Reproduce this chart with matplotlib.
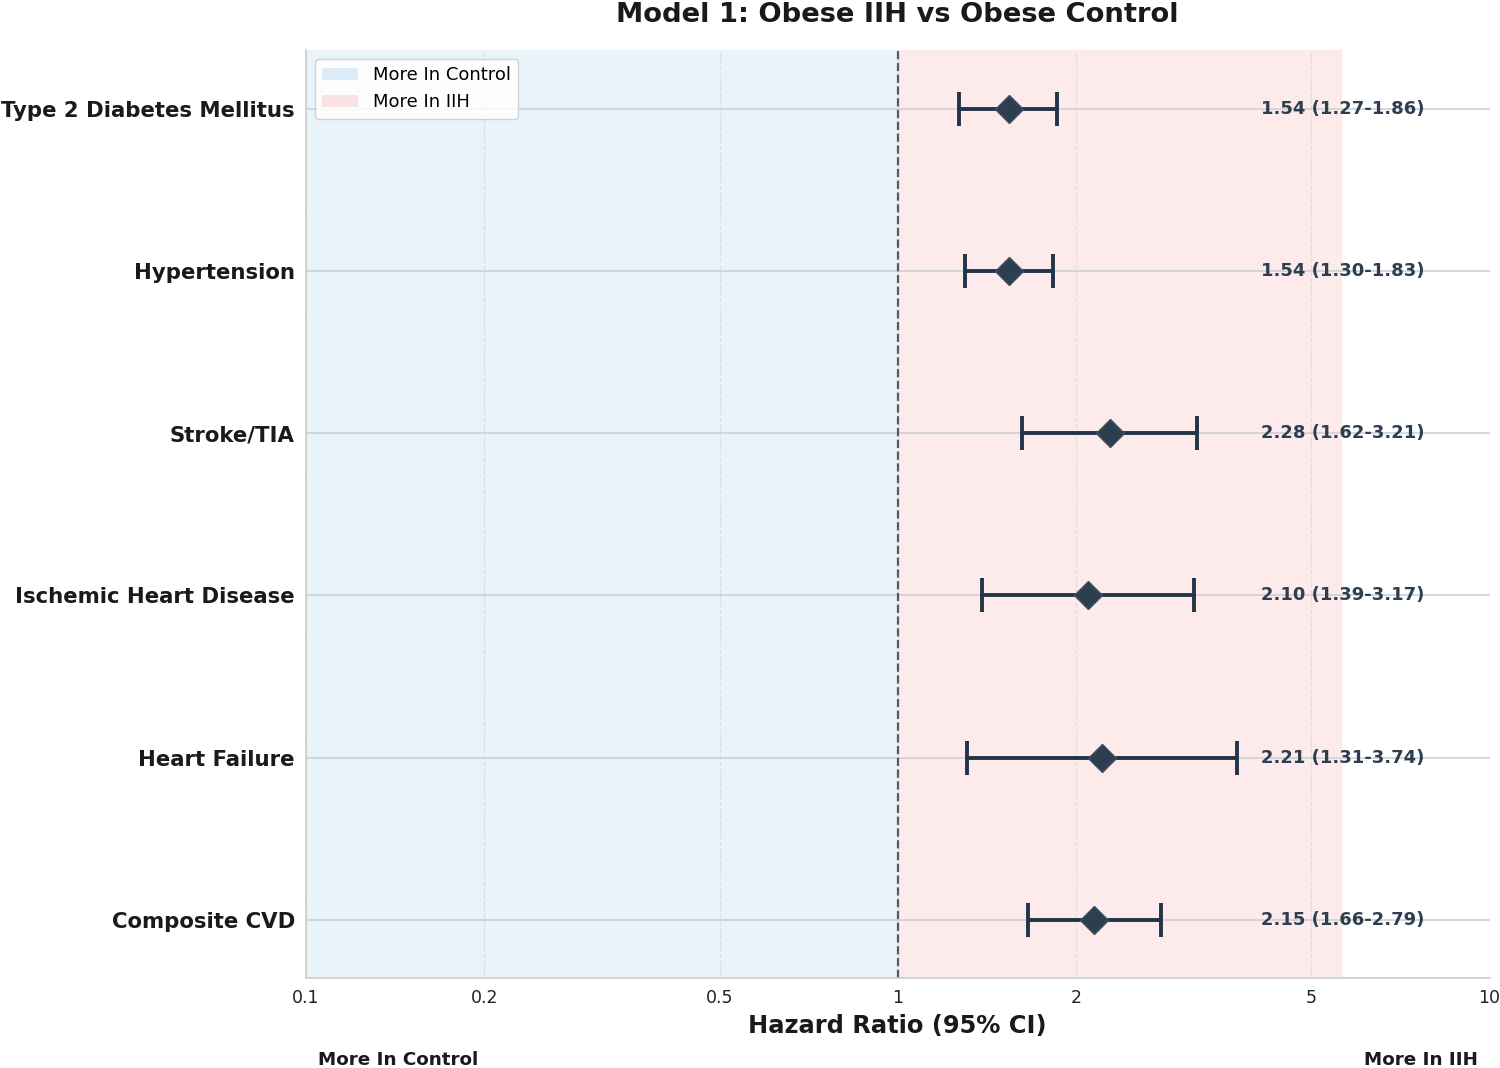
import numpy as np
import matplotlib
matplotlib.use("Agg")
import matplotlib.pyplot as plt
from matplotlib.patches import Patch

# --- DATOS ---
outcomes = ["Type 2 Diabetes Mellitus", "Hypertension", "Stroke/TIA",
            "Ischemic Heart Disease", "Heart Failure", "Composite CVD"]
hr = [1.54, 1.54, 2.28, 2.10, 2.21, 2.15]
ci_low = [1.27, 1.30, 1.62, 1.39, 1.31, 1.66]
ci_high = [1.86, 1.83, 3.21, 3.17, 3.74, 2.79]
x_ticks = [0.1, 0.2, 0.5, 1, 2, 5, 10]
x_tick_labels = ["0.1", "0.2", "0.5", "1", "2", "5", "10"]

DARK = "#2c3e50"

fig = plt.figure(figsize=(15, 10.68), dpi=100)
ax = fig.add_axes([0.204, 0.084, 0.789, 0.869])

n = len(outcomes)
y = np.arange(n)[::-1]  # primero arriba

hr_a = np.array(hr)
err = [hr_a - np.array(ci_low), np.array(ci_high) - hr_a]

ax.set_xscale("log")
ax.set_xlim(0.1, 10)
ax.set_ylim(-0.36, n - 1 + 0.36)

# zonas de fondo
ax.axvspan(0.1, 1, color="#e8f4fa", zorder=0)
ax.axvspan(1, max(ci_high) * 1.5, color="#fdebec", zorder=0)

# grilla
for t in x_ticks:
    ax.axvline(t, color="#dddddd", linestyle="--", linewidth=0.9, zorder=1)
for yy in y:
    ax.axhline(yy, color="#c9cdd2", linewidth=1.1, zorder=1)

ax.axvline(1, color="#555a60", linestyle="--", linewidth=1.6, zorder=2)

ax.errorbar(hr, y, xerr=err, fmt="none", ecolor="#223548", elinewidth=2.8,
            capsize=12.5, capthick=2.8, zorder=3)
ax.plot(hr, y, linestyle="none", marker="D", markersize=14.5,
        color=DARK, markeredgecolor="#3d4f61", markeredgewidth=1, zorder=4)

text_x = max(ci_high) * 1.1
for yy, h, lo, hi in zip(y, hr, ci_low, ci_high):
    ax.text(text_x, yy, f"{h:.2f} ({lo:.2f}-{hi:.2f})", va="center", ha="left",
            fontsize=13, fontweight="bold", color=DARK, zorder=5)

ax.set_yticks(y)
ax.set_yticklabels(outcomes, fontsize=15.3, fontweight="bold", color="#1a1a1a")
ax.set_xticks(x_ticks)
ax.set_xticklabels(x_tick_labels, fontsize=12.5, color="#222222")
ax.xaxis.set_minor_locator(matplotlib.ticker.NullLocator())
ax.tick_params(axis="both", length=0, pad=8)

for side in ["top", "right"]:
    ax.spines[side].set_visible(False)
for side in ["left", "bottom"]:
    ax.spines[side].set_color("#cccccc")
    ax.spines[side].set_linewidth(1.2)

ax.set_xlabel("Hazard Ratio (95% CI)", fontsize=17.4, fontweight="bold",
              color="#1a1a1a", labelpad=5)
ax.set_title("Model 1: Obese IIH vs Obese Control", fontsize=19.7,
             fontweight="bold", color="#1a1a1a", pad=20)

ax.text(0.01, -0.088, "More In Control", transform=ax.transAxes, ha="left",
        va="center", fontsize=13.2, fontweight="bold", color="#1a1a1a")
ax.text(0.99, -0.088, "More In IIH", transform=ax.transAxes, ha="right",
        va="center", fontsize=13.2, fontweight="bold", color="#1a1a1a")

handles = [Patch(facecolor="#dcecf8", label="More In Control"),
           Patch(facecolor="#fbe3e5", label="More In IIH")]
ax.legend(handles=handles, loc="upper left", fontsize=13, frameon=True,
          facecolor="white", edgecolor="#cccccc", framealpha=0.85)

fig.savefig("out.png", dpi=100)
